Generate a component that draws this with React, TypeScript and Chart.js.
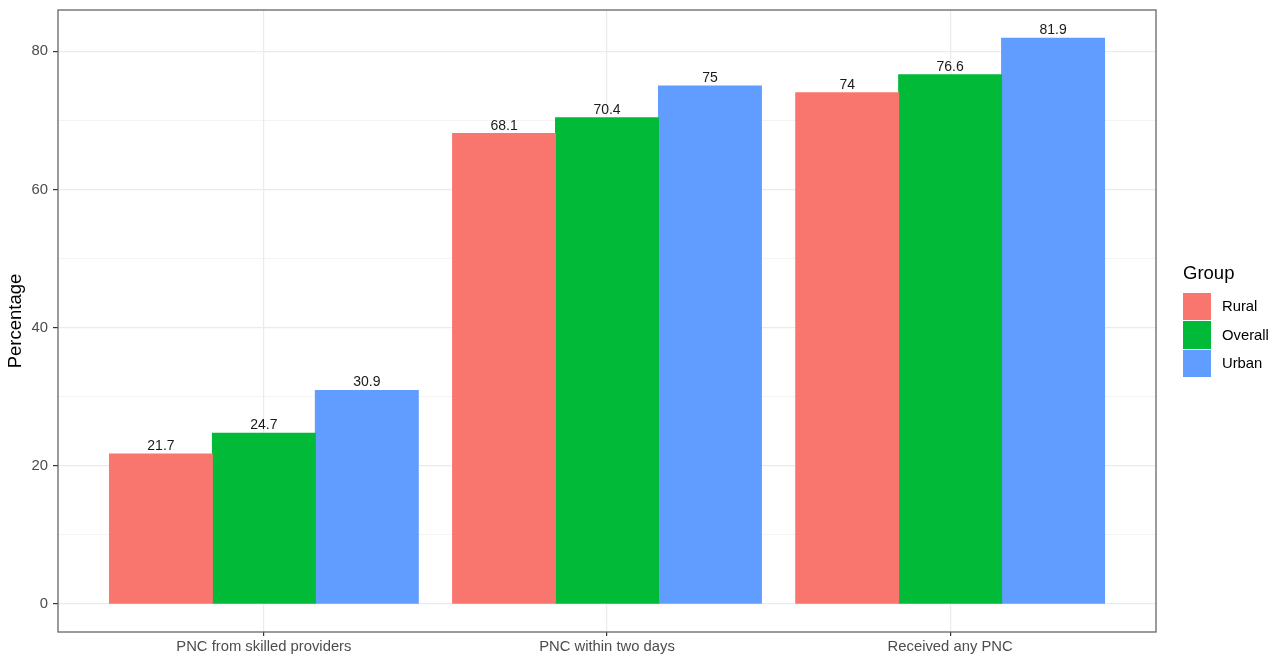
import { useEffect, useRef } from "react";
import { Chart, registerables } from "chart.js";
import type { Plugin } from "chart.js";

Chart.register(...registerables);

const categories = ["PNC from skilled providers", "PNC within two days", "Received any PNC"];
const groups = ["Rural", "Overall", "Urban"];
const groupColors = ["#F8766D", "#00BA38", "#619CFF"];
const rural = [21.7, 68.1, 74];
const overall = [24.7, 70.4, 76.6];
const urban = [30.9, 75, 81.9];
const yTicks = [0, 10, 20, 30, 40, 50, 60, 70, 80];

const FONT = '"Liberation Sans", Arial, Helvetica, sans-serif';

// value labels above each bar, like geom_text(vjust = -0.5)
const barLabels: Plugin<"bar"> = {
  id: "barLabels",
  afterDatasetsDraw(chart) {
    const ctx = chart.ctx;
    ctx.save();
    ctx.font = `14px ${FONT}`;
    ctx.fillStyle = "#1a1a1a";
    ctx.textAlign = "center";
    ctx.textBaseline = "alphabetic";
    chart.data.datasets.forEach((ds, i) => {
      const meta = chart.getDatasetMeta(i);
      meta.data.forEach((bar, j) => {
        const p = ds.data[j] as { x: number; y: number };
        ctx.fillText(String(p.y), bar.x, bar.y - 4);
      });
    });
    ctx.restore();
  },
};

// panel border, theme_bw
const panelBorder: Plugin<"bar"> = {
  id: "panelBorder",
  afterDraw(chart) {
    const { left, top, right, bottom } = chart.chartArea;
    const ctx = chart.ctx;
    ctx.save();
    ctx.strokeStyle = "#666666";
    ctx.lineWidth = 1.3;
    ctx.strokeRect(left, top, right - left, bottom - top);
    ctx.restore();
  },
};

function Legend() {
  return (
    <div style={{ position: "absolute", left: 1183, top: 261, fontFamily: FONT }}>
      <div style={{ fontSize: 18.5, lineHeight: "24px", color: "#000", marginBottom: 7 }}>Group</div>
      {groups.map((g, i) => (
        <div key={g} style={{ display: "flex", alignItems: "center", height: 28.5 }}>
          <div style={{ width: 28, height: 27.5, background: groupColors[i] }} />
          <span style={{ marginLeft: 11, fontSize: 14.8, color: "#000" }}>{g}</span>
        </div>
      ))}
    </div>
  );
}

export default function App() {
  const canvasRef = useRef<HTMLCanvasElement>(null);

  useEffect(() => {
    if (!canvasRef.current) return;
    const ctx = canvasRef.current.getContext("2d") as CanvasRenderingContext2D;
    Chart.defaults.font.family = FONT;

    const series = [rural, overall, urban];
    const chart = new Chart(ctx, {
      type: "bar",
      data: {
        datasets: groups.map((g, i) => ({
          label: g,
          data: series[i].map((v, j) => ({ x: j + 1, y: v })),
          backgroundColor: groupColors[i],
          borderWidth: 0,
          inflateAmount: 0.5,
          barPercentage: 1,
          categoryPercentage: 0.9,
        })),
      },
      options: {
        animation: false,
        responsive: true,
        maintainAspectRatio: false,
        layout: { padding: { left: 0, top: 10, right: 124, bottom: 0 } },
        plugins: {
          legend: { display: false },
          tooltip: { enabled: false },
        },
        scales: {
          x: {
            type: "linear",
            min: 0.4,
            max: 3.6,
            offset: false,
            afterBuildTicks: (scale) => {
              scale.ticks = categories.map((_, i) => ({ value: i + 1 }));
            },
            afterFit: (scale) => {
              scale.height = 30;
              scale.paddingLeft = 0;
              scale.paddingRight = 0;
            },
            border: { display: false },
            grid: {
              offset: false,
              color: "#EBEBEB",
              lineWidth: 1.2,
              tickColor: "#333333",
              tickLength: 4,
            },
            ticks: {
              autoSkip: false,
              maxRotation: 0,
              padding: 2,
              color: "#4D4D4D",
              font: { size: 14.8 },
              callback: (v) => categories[Number(v) - 1] ?? "",
            },
          },
          y: {
            min: -4.095,
            max: 85.995,
            afterBuildTicks: (scale) => {
              scale.ticks = yTicks.map((v) => ({ value: v }));
            },
            afterFit: (scale) => {
              scale.width = 58;
              scale.paddingTop = 0;
              scale.paddingBottom = 0;
            },
            border: { display: false },
            grid: {
              color: "#EBEBEB",
              lineWidth: (c) => (c.tick && c.tick.value % 20 === 0 ? 1.2 : 0.6),
              tickColor: (c) =>
                c.tick && c.tick.value % 20 === 0 ? "#333333" : "rgba(0,0,0,0)",
              tickLength: 5,
            },
            ticks: {
              padding: 5,
              color: "#4D4D4D",
              font: { size: 14.8 },
              callback: (v) => (Number(v) % 20 === 0 ? String(v) : ""),
            },
            title: {
              display: true,
              text: "Percentage",
              color: "#000",
              font: { size: 18.5 },
              padding: { top: 5, bottom: 0 },
            },
          },
        },
      },
      plugins: [barLabels, panelBorder],
    });

    return () => {
      chart.destroy();
    };
  }, []);

  return (
    <div style={{ position: "relative", width: 1280, height: 662, background: "#fff" }}>
      <style>{`body{margin:0}`}</style>
      <canvas ref={canvasRef} />
      <Legend />
    </div>
  );
}
